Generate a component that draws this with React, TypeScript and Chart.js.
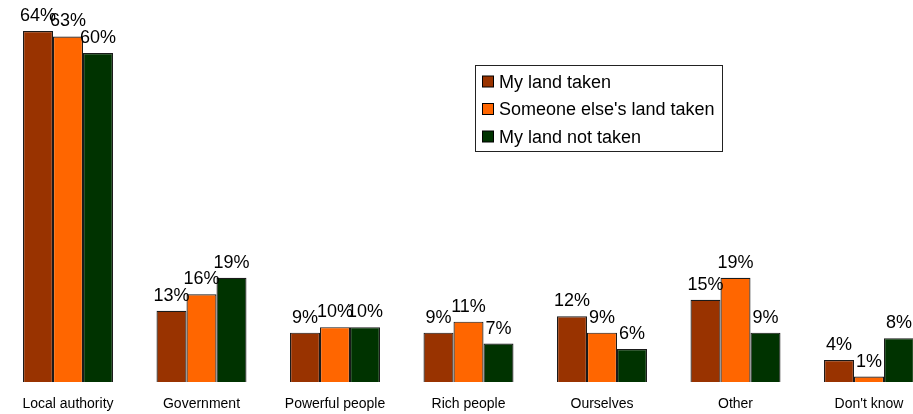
import React, { useEffect, useRef } from "react";
import { Chart, registerables } from "chart.js";

Chart.register(...registerables);

const categories = ["Local authority", "Government", "Powerful people", "Rich people", "Ourselves", "Other", "Don't know"];
const seriesNames = ["My land taken", "Someone else's land taken", "My land not taken"];
const myLandTaken = [64, 13, 9, 9, 12, 15, 4];
const someoneElsesLandTaken = [63, 16, 10, 11, 9, 19, 1];
const myLandNotTaken = [60, 19, 10, 7, 6, 9, 8];
const colors = ["#993300", "#FF6600", "#003300"];

const FONT = "'Liberation Sans', Arial, sans-serif";

const labelPlugin = {
  id: "valueLabels",
  afterDatasetsDraw(chart: any) {
    const ctx = chart.ctx;
    ctx.save();
    ctx.font = `18px ${FONT}`;
    ctx.fillStyle = "#000";
    ctx.textAlign = "center";
    ctx.textBaseline = "alphabetic";
    chart.data.datasets.forEach((ds: any, i: number) => {
      const meta = chart.getDatasetMeta(i);
      meta.data.forEach((bar: any, j: number) => {
        ctx.fillText(ds.data[j] + "%", bar.x, bar.y - 10);
      });
    });
    ctx.restore();
  },
};

const legendPlugin = {
  id: "boxLegend",
  afterDraw(chart: any) {
    const ctx = chart.ctx;
    ctx.save();
    const x = 475.5, y = 65.5, w = 247, h = 86;
    ctx.fillStyle = "#fff";
    ctx.fillRect(x, y, w, h);
    ctx.strokeStyle = "#222";
    ctx.lineWidth = 1;
    ctx.strokeRect(x, y, w, h);
    ctx.font = `18px ${FONT}`;
    ctx.textBaseline = "middle";
    ctx.textAlign = "left";
    chart.data.datasets.forEach((ds: any, i: number) => {
      const cy = 82 + i * 27.5;
      ctx.fillStyle = ds.backgroundColor;
      ctx.fillRect(482.5, cy - 6, 11, 11);
      ctx.strokeStyle = "#000";
      ctx.strokeRect(482.5, cy - 6, 11, 11);
      ctx.fillStyle = "#000";
      ctx.fillText(ds.label, 499, cy + 1);
    });
    ctx.restore();
  },
};

export default function App() {
  const ref = useRef<HTMLCanvasElement>(null);
  useEffect(() => {
    document.body.style.margin = "0";
    const seriesData = [myLandTaken, someoneElsesLandTaken, myLandNotTaken];
    const chart = new Chart(ref.current!, {
      type: "bar",
      data: {
        labels: categories,
        datasets: seriesNames.map((name, i) => ({
          label: name,
          data: seriesData[i],
          backgroundColor: colors[i],
          borderColor: "#1a1a1a",
          borderWidth: 1.2,
          categoryPercentage: 0.674,
          barPercentage: 1,
        })),
      },
      options: {
        responsive: false,
        animation: false,
        layout: { padding: { top: 31, bottom: 3, left: 1.25, right: 1.25 } },
        plugins: { legend: { display: false }, tooltip: { enabled: false } },
        scales: {
          x: {
            grid: { display: false, drawTicks: false },
            border: { display: false },
            ticks: { color: "#000", padding: 14, font: { size: 14, family: FONT } },
            afterFit: (scale: any) => {
              scale.height = 29;
            },
          },
          y: { display: false, min: 0, max: 64 },
        },
      },
      plugins: [labelPlugin, legendPlugin],
    });
    return () => chart.destroy();
  }, []);
  return (
    <div style={{ position: "fixed", left: 0, top: 0, width: 913, height: 414, overflow: "hidden", background: "#fff" }}>
      <canvas ref={ref} width={937} height={414} style={{ display: "block" }} />
    </div>
  );
}
